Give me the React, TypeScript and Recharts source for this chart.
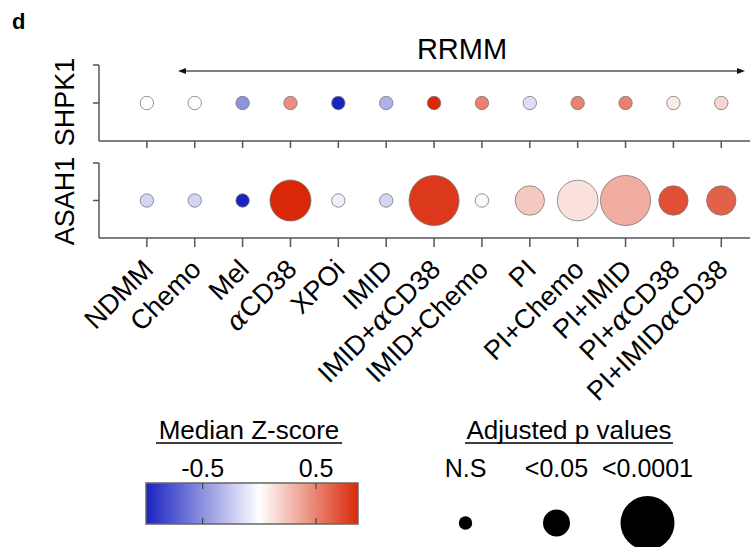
import React from "react";
import { ScatterChart, Scatter, XAxis, YAxis, ZAxis, Cell } from "recharts";

// treatment groups along the x axis
const categories = [
  "NDMM",
  "Chemo",
  "Mel",
  "αCD38",
  "XPOi",
  "IMID",
  "IMID+αCD38",
  "IMID+Chemo",
  "PI",
  "PI+Chemo",
  "PI+IMID",
  "PI+αCD38",
  "PI+IMIDαCD38",
];

// median z-score per group (colour)
const shpk1Z = [0, 0, -0.49, 0.45, -1.0, -0.35, 0.87, 0.51, -0.15, 0.5, 0.51, 0.085, 0.16];
const asah1Z = [-0.19, -0.19, -1.0, 0.87, -0.07, -0.19, 0.8, 0.03, 0.22, 0.12, 0.33, 0.71, 0.64];

// significance score per group (bubble size)
const shpk1Sig = [0, 0, 0, 0, 0, 0, 0, 0, 0, 0, 0, 0, 0];
const asah1Sig = [0, 0, 0, 2.2, 0, 0, 3.4, 0, 1.0, 2.15, 3.4, 1.0, 1.0];

// legends
const zLimits = [-1, 0.87];
const zTicks = [-0.5, 0.5];
const sizeLabels = ["N.S", "<0.05", "<0.0001"];
const sizeSig = [0, 0.8, 4];

const FONT = '"Liberation Sans", Arial, Helvetica, sans-serif';
const BLUE = [25, 35, 192];
const RED = [217, 40, 8];
const AXIS = "#555";

const zColor = (z: number) => {
  const end = z < 0 ? BLUE : RED;
  const lim = z < 0 ? -zLimits[0] : zLimits[1];
  const t = Math.min(1, Math.abs(z) / lim);
  const c = end.map((v) => Math.round(255 + (v - 255) * t));
  return `rgb(${c.join(",")})`;
};

const rowData = (z: number[], sig: number[]) =>
  categories.map((name, i) => ({ x: i + 1, y: 1, z: z[i], sig: sig[i], name }));

const topRow = rowData(shpk1Z, shpk1Sig);
const bottomRow = rowData(asah1Z, asah1Sig);
const xTicks = categories.map((_, i) => i + 1);
const sizeData = sizeLabels.map((label, i) => ({ label, y: 0.5, sig: sizeSig[i] }));

// colour bar box on the page
const BAR = { x0: 146, x1: 358, y0: 483, y1: 524 };
const barX = (z: number) =>
  BAR.x0 + ((z - zLimits[0]) / (zLimits[1] - zLimits[0])) * (BAR.x1 - BAR.x0);

const CategoryTick = (props: any) => {
  const { x, y, payload } = props;
  const label = categories[payload.value - 1] ?? "";
  const parts = label.split("α");
  const ax = x + 8;
  const ay = y + 22;
  return (
    <text
      x={ax}
      y={ay}
      transform={`rotate(-45, ${ax}, ${ay})`}
      textAnchor="end"
      fontFamily={FONT}
      fontSize={27}
      fill="#000"
    >
      {parts.map((p, i) => (
        <React.Fragment key={i}>
          {i > 0 && (
            <tspan fontFamily='"DejaVu Serif", serif' fontStyle="italic">
              α
            </tspan>
          )}
          {p && <tspan>{p}</tspan>}
        </React.Fragment>
      ))}
    </text>
  );
};

const blank = () => "";

const App = () => {
  const gradStops = [
    { off: 0, c: zColor(zLimits[0]) },
    { off: -zLimits[0] / (zLimits[1] - zLimits[0]), c: "rgb(255,255,255)" },
    { off: 1, c: zColor(zLimits[1]) },
  ];

  return (
    <div
      style={{
        position: "absolute",
        left: 0,
        top: 0,
        width: 753,
        height: 547,
        overflow: "hidden",
        background: "#fff",
        fontFamily: FONT,
      }}
    >
      {/* SHPK1 panel */}
      <div style={{ position: "absolute", left: 0, top: 0 }}>
        <ScatterChart width={753} height={160} margin={{ top: 65, right: 3, bottom: 9, left: 89 }}>
          <XAxis
            type="number"
            dataKey="x"
            domain={[0, 13.6]}
            ticks={xTicks}
            tickFormatter={blank}
            height={10}
            tickSize={7}
            stroke={AXIS}
            strokeWidth={1.5}
            allowDataOverflow
          />
          <YAxis
            type="number"
            dataKey="y"
            domain={[0, 2]}
            ticks={[1, 2]}
            tickFormatter={blank}
            width={10}
            tickSize={6}
            stroke={AXIS}
            strokeWidth={1.5}
          />
          <ZAxis type="number" dataKey="sig" domain={[0, 4]} range={[141, 2290]} />
          <Scatter data={topRow} isAnimationActive={false} stroke="#777" strokeWidth={0.8}>
            {topRow.map((d, i) => (
              <Cell key={i} fill={zColor(d.z)} />
            ))}
          </Scatter>
        </ScatterChart>
      </div>

      {/* ASAH1 panel */}
      <div style={{ position: "absolute", left: 0, top: 150 }}>
        <ScatterChart width={753} height={280} margin={{ top: 13, right: 3, bottom: 2, left: 89 }}>
          <XAxis
            type="number"
            dataKey="x"
            domain={[0, 13.6]}
            ticks={xTicks}
            tick={<CategoryTick />}
            height={190}
            tickSize={9}
            stroke={AXIS}
            strokeWidth={1.5}
            allowDataOverflow
            interval={0}
          />
          <YAxis
            type="number"
            dataKey="y"
            domain={[0, 2]}
            ticks={[1, 2]}
            tickFormatter={blank}
            width={10}
            tickSize={6}
            stroke={AXIS}
            strokeWidth={1.5}
          />
          <ZAxis type="number" dataKey="sig" domain={[0, 4]} range={[141, 2290]} />
          <Scatter data={bottomRow} isAnimationActive={false} stroke="#777" strokeWidth={0.8}>
            {bottomRow.map((d, i) => (
              <Cell key={i} fill={zColor(d.z)} />
            ))}
          </Scatter>
        </ScatterChart>
      </div>

      {/* size legend */}
      <div style={{ position: "absolute", left: 420, top: 440 }}>
        <ScatterChart width={273} height={107} margin={{ top: 0, right: 0, bottom: 0, left: 0 }}>
          <XAxis
            type="category"
            dataKey="label"
            orientation="top"
            height={59}
            tickSize={0}
            tickMargin={22}
            axisLine={false}
            tickLine={false}
            tick={{ fontSize: 25, fill: "#000", fontFamily: FONT }}
          />
          <YAxis type="number" dataKey="y" hide domain={[0, 1]} />
          <ZAxis type="number" dataKey="sig" domain={[0, 4]} range={[141, 2290]} />
          <Scatter data={sizeData} isAnimationActive={false} fill="#000" />
        </ScatterChart>
      </div>

      {/* annotations and colour bar */}
      <svg
        width={753}
        height={547}
        style={{ position: "absolute", left: 0, top: 0, pointerEvents: "none" }}
        fontFamily={FONT}
      >
        <defs>
          <linearGradient id="zgrad" x1="0" y1="0" x2="1" y2="0">
            {gradStops.map((s, i) => (
              <stop key={i} offset={s.off} stopColor={s.c} />
            ))}
          </linearGradient>
        </defs>
        <text x={12} y={29} fontSize={22} fontWeight="bold">
          d
        </text>
        <text x={462} y={59} fontSize={29} textAnchor="middle">
          RRMM
        </text>
        <line x1={183} y1={71} x2={740} y2={71} stroke="#555" strokeWidth={1.5} />
        <polygon points="178,71 186,68 186,74" fill="#111" />
        <polygon points="745,71 737,68 737,74" fill="#111" />
        <text x={74} y={102} fontSize={27} textAnchor="middle" transform="rotate(-90, 74, 102)">
          SHPK1
        </text>
        <text x={74} y={201} fontSize={27} textAnchor="middle" transform="rotate(-90, 74, 201)">
          ASAH1
        </text>

        <text x={249} y={439} fontSize={26} textAnchor="middle">
          Median Z-score
        </text>
        <line x1={156} y1={443} x2={342} y2={443} stroke="#000" strokeWidth={1.5} />
        <rect
          x={BAR.x0}
          y={BAR.y0}
          width={BAR.x1 - BAR.x0}
          height={BAR.y1 - BAR.y0}
          fill="url(#zgrad)"
          stroke="#666"
          strokeWidth={1.5}
        />
        {zTicks.map((t) => (
          <g key={t}>
            <line x1={barX(t)} y1={BAR.y0} x2={barX(t)} y2={BAR.y0 + 6} stroke="#333" />
            <line x1={barX(t)} y1={BAR.y1} x2={barX(t)} y2={BAR.y1 - 6} stroke="#333" />
            <text x={barX(t)} y={477} fontSize={25} textAnchor="middle">
              {t}
            </text>
          </g>
        ))}

        <text x={569} y={439} fontSize={26} textAnchor="middle">
          Adjusted p values
        </text>
        <line x1={465} y1={443} x2={673} y2={443} stroke="#000" strokeWidth={1.5} />
      </svg>
    </div>
  );
};

export default App;
